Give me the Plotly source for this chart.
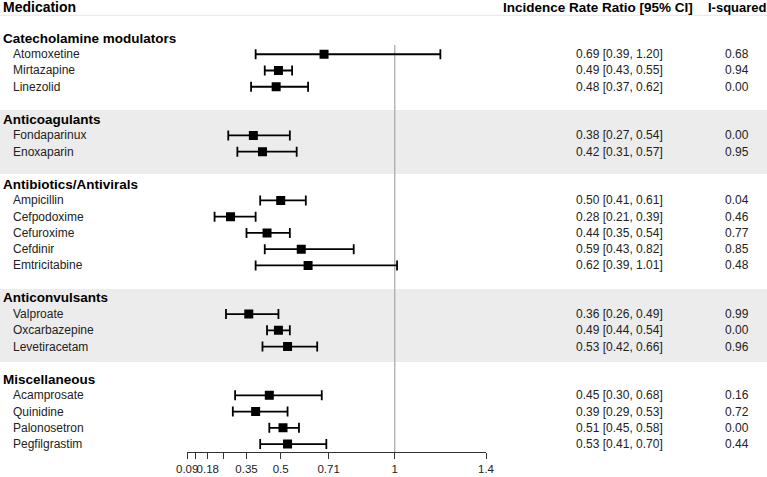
import plotly.graph_objects as go

W, H = 767, 477

groups = ["Catecholamine modulators", "Anticoagulants", "Antibiotics/Antivirals",
          "Anticonvulsants", "Miscellaneous"]
medications = [
    ["Atomoxetine", "Mirtazapine", "Linezolid"],
    ["Fondaparinux", "Enoxaparin"],
    ["Ampicillin", "Cefpodoxime", "Cefuroxime", "Cefdinir", "Emtricitabine"],
    ["Valproate", "Oxcarbazepine", "Levetiracetam"],
    ["Acamprosate", "Quinidine", "Palonosetron", "Pegfilgrastim"],
]
irr = [[0.69, 0.49, 0.48], [0.38, 0.42], [0.50, 0.28, 0.44, 0.59, 0.62],
       [0.36, 0.49, 0.53], [0.45, 0.39, 0.51, 0.53]]
ci_low = [[0.39, 0.43, 0.37], [0.27, 0.31], [0.41, 0.21, 0.35, 0.43, 0.39],
          [0.26, 0.44, 0.42], [0.30, 0.29, 0.45, 0.41]]
ci_high = [[1.20, 0.55, 0.62], [0.54, 0.57], [0.61, 0.39, 0.54, 0.82, 1.01],
           [0.49, 0.54, 0.66], [0.68, 0.53, 0.58, 0.70]]
i_squared = [[0.68, 0.94, 0.00], [0.00, 0.95], [0.04, 0.46, 0.77, 0.85, 0.48],
             [0.99, 0.00, 0.96], [0.16, 0.72, 0.00, 0.44]]
shaded = [False, True, False, True, False]

tick_vals = [0.09, 0.125, 0.18, 0.25, 0.35, 0.5, 0.71, 1, 1.4]
tick_text = ["0.09", "", "0.18", "", "0.35", "0.5", "0.71", "1", "1.4"]

FONT = "Liberation Sans, Arial, sans-serif"

# row layout (row index -> pixel y = 5.5 + 16.24*row)
Y_TOP, Y_BOT = -0.34, 27.49
xs, ys, elo, ehi = [], [], [], []
annotations, shapes = [], []

def paper_x(px):
    return px / W

annotations.append(dict(x=paper_x(1), y=0.1, xref="paper", yref="y", text="<b>Medication</b>",
                        showarrow=False, xanchor="left", yanchor="middle",
                        font=dict(size=14, color="#000", family=FONT)))
annotations.append(dict(x=paper_x(598), y=0.1, xref="paper", yref="y",
                        text="<b>Incidence Rate Ratio [95% CI]</b>",
                        showarrow=False, xanchor="center", yanchor="middle",
                        font=dict(size=13.5, color="#000", family=FONT)))
annotations.append(dict(x=paper_x(737), y=0.1, xref="paper", yref="y", text="<b>I-squared</b>",
                        showarrow=False, xanchor="center", yanchor="middle",
                        font=dict(size=13, color="#000", family=FONT)))

band_rows = {1: (6.43, 10.38), 3: (17.46, 21.95)}

row = 2
for gi, g in enumerate(groups):
    annotations.append(dict(x=paper_x(1), y=row, xref="paper", yref="y", text="<b>%s</b>" % g,
                            showarrow=False, xanchor="left", yanchor="middle",
                            font=dict(size=13.5, color="#000", family=FONT)))
    if shaded[gi]:
        y0, y1 = band_rows[gi]
        shapes.append(dict(type="rect", xref="paper", yref="y", x0=0, x1=1, y0=y0, y1=y1,
                           fillcolor="#ECECEC", line=dict(width=0), layer="below"))
    row += 1
    for mi, m in enumerate(medications[gi]):
        v, lo, hi, i2 = irr[gi][mi], ci_low[gi][mi], ci_high[gi][mi], i_squared[gi][mi]
        xs.append(v); ys.append(row); elo.append(v - lo); ehi.append(hi - v)
        annotations.append(dict(x=paper_x(11), y=row, xref="paper", yref="y", text=m,
                                showarrow=False, xanchor="left", yanchor="middle",
                                font=dict(size=12, color="#222", family=FONT)))
        annotations.append(dict(x=paper_x(619), y=row, xref="paper", yref="y",
                                text="%.2f [%.2f, %.2f]" % (v, lo, hi),
                                showarrow=False, xanchor="center", yanchor="middle",
                                font=dict(size=12, color="#222", family=FONT)))
        annotations.append(dict(x=paper_x(737), y=row, xref="paper", yref="y",
                                text="%.2f" % i2,
                                showarrow=False, xanchor="center", yanchor="middle",
                                font=dict(size=12, color="#222", family=FONT)))
        row += 1
    row += 1

# header rule
shapes.append(dict(type="line", xref="paper", yref="y", x0=0, x1=1, y0=0.6, y1=0.6,
                   line=dict(color="#E6E6E6", width=1)))
# reference line at 1
shapes.append(dict(type="line", xref="x", yref="y", x0=1, x1=1, y0=2.43, y1=Y_BOT,
                   line=dict(color="#A6A6A6", width=1.2), layer="below"))

fig = go.Figure()
fig.add_trace(go.Scatter(
    x=xs, y=ys, mode="markers",
    marker=dict(symbol="square", size=9, color="#000"),
    error_x=dict(type="data", symmetric=False, array=ehi, arrayminus=elo,
                 color="#000", thickness=1.8, width=5),
    showlegend=False, hoverinfo="skip"))

fig.update_layout(
    width=W, height=H,
    margin=dict(l=0, r=0, t=0, b=0, autoexpand=False),
    paper_bgcolor="white", plot_bgcolor="rgba(0,0,0,0)",
    annotations=annotations, shapes=shapes,
    xaxis=dict(domain=[187.2 / W, 486 / W], range=[0.09, 1.4],
               tickvals=tick_vals, ticktext=tick_text, tickangle=0, automargin=False,
               showgrid=False, zeroline=False, showline=True,
               linecolor="#333", linewidth=1, ticks="outside", ticklen=6,
               tickcolor="#333", tickwidth=1,
               tickfont=dict(size=11.5, color="#222", family=FONT)),
    yaxis=dict(domain=[25 / H, 1], range=[Y_BOT, Y_TOP], automargin=False,
               showgrid=False, zeroline=False, showline=False,
               showticklabels=False, ticks=""),
)

fig.write_html("out.html", config={"displayModeBar": False},
               post_script="document.body.style.margin='0';document.body.style.overflow='hidden';")
